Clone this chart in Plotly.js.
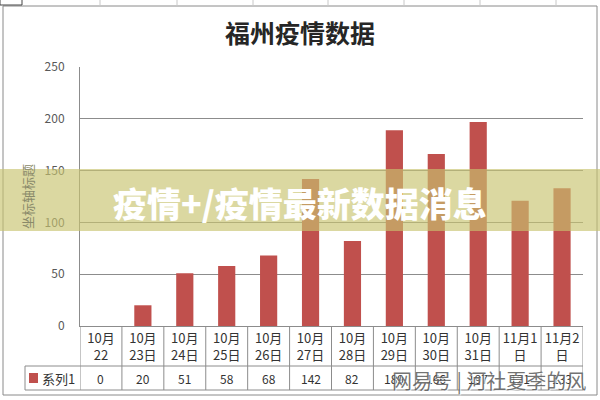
<!DOCTYPE html>
<html><head><meta charset="utf-8">
<script src="https://cdn.plot.ly/plotly-3.0.1.min.js"></script>
<style>html,body{margin:0;padding:0;background:#fff}#chart{width:600px;height:400px}</style>
</head><body><div id="chart"></div>
<script>
const categories = ["10月22","10月23日","10月24日","10月25日","10月26日","10月27日","10月28日","10月29日","10月30日","10月31日","11月1日","11月2日"];
const tickLabels = ["10月<br>22","10月<br>23日","10月<br>24日","10月<br>25日","10月<br>26日","10月<br>27日","10月<br>28日","10月<br>29日","10月<br>30日","10月<br>31日","11月1<br>日","11月2<br>日"];
const values = [0,20,51,58,68,142,82,189,166,197,121,133];
const seriesName = "系列1";
const yTicks = [0,50,100,150,200,250];
const chartTitle = "福州疫情数据";
const yTitle = "坐标轴标题";
const bannerText = "疫情+/疫情最新数据消息";
const watermarkText = "网易号 | 河社夏季的风";

const L = 80, R = 583, T = 67, B = 326;
const px = v => (v - L) / (R - L);
const py = v => (B - v) / (B - T);
const FONT = "Noto Sans CJK SC, Noto Sans, sans-serif";
const RED = "#c0504d";
const GRID = "#8c8c8c";

const shapes = [];
const line = (x0, y0, x1, y1, xref, color, w) => shapes.push({type:"line", xref:xref||"paper", yref:"paper", x0, y0, x1, y1, line:{color:color||GRID, width:w||1}});
// table vertical dividers
for (let i = 0; i <= categories.length; i++) {
  shapes.push({type:"line", xref:"x", yref:"paper", x0:i-0.5, x1:i-0.5, y0:py(326), y1:py(390), line:{color:GRID, width:1}});
}
// table horizontal lines
line(px(25), py(366), px(583), py(366));
line(px(25), py(390), px(583), py(390));
line(px(25), py(366), px(25), py(390));
// legend marker
shapes.push({type:"rect", xref:"paper", yref:"paper", x0:px(29), x1:px(38), y0:py(383), y1:py(373), fillcolor:RED, line:{width:0}});
// outer chart border
shapes.push({type:"rect", xref:"paper", yref:"paper", x0:px(3), x1:px(597), y0:py(395), y1:py(6), line:{color:"#8a8a8a", width:1}});
// spreadsheet grid above chart
shapes.push({type:"rect", xref:"paper", yref:"paper", x0:px(0), x1:px(22), y0:py(5), y1:py(-2), line:{color:"#444", width:1}});
[100,177,253,328,404,480,556].forEach(x => line(px(x), py(0), px(x), py(6), "paper", "#c8c8c8"));
// banner overlay
shapes.push({type:"rect", xref:"paper", yref:"paper", x0:px(0), x1:px(600), y0:py(231), y1:py(169), fillcolor:"rgba(200,195,110,0.65)", line:{width:0}, layer:"above"});

const annotations = [];
values.forEach((v, i) => annotations.push({x:categories[i], xref:"x", yref:"paper", y:py(378), yanchor:"middle", text:String(v), showarrow:false, font:{family:FONT, size:12, color:"#333"}}));
annotations.push({xref:"paper", yref:"paper", x:px(40), xanchor:"left", y:py(378), yanchor:"middle", text:seriesName, showarrow:false, font:{family:FONT, size:13, color:"#333"}});
annotations.push({xref:"paper", yref:"paper", x:px(300), y:py(202), xanchor:"center", yanchor:"middle", text:bannerText, showarrow:false, font:{family:FONT, size:34, color:"#ffffff", weight:900}});
annotations.push({xref:"paper", yref:"paper", x:px(588), xanchor:"right", y:py(380), yanchor:"middle", text:watermarkText, showarrow:false, font:{family:FONT, size:20, color:"rgba(90,90,90,0.85)", shadow:"1px 1px 1px #fff"}});

const data = [{
  type:"bar", x:categories, y:values, name:seriesName,
  marker:{color:RED, line:{width:0}}, hoverinfo:"skip"
}];

const layout = {
  width:600, height:400, margin:{l:L, r:600-R, t:T, b:400-B},
  paper_bgcolor:"#fff", plot_bgcolor:"#fff", showlegend:false, bargap:0.59,
  title:{text:chartTitle, x:0.5, xref:"container", xanchor:"center", y:1-34/400, yref:"container", yanchor:"middle", font:{family:FONT, size:25, color:"#262626", weight:"bold"}},
  xaxis:{type:"category", range:[-0.5, categories.length-0.5], tickvals:categories, ticktext:tickLabels, showgrid:false, showline:true, linecolor:GRID, linewidth:1, ticks:"", tickfont:{family:FONT, size:13, color:"#333"}, fixedrange:true},
  yaxis:{range:[0,250], tickvals:yTicks, showgrid:true, gridcolor:GRID, gridwidth:1, showline:true, linecolor:GRID, zeroline:false, ticks:"", ticklabelstandoff:12, tickfont:{family:FONT, size:12, color:"#595959"}, title:{text:yTitle, standoff:8, font:{family:FONT, size:13, color:"#8a8a6a"}}, fixedrange:true},
  shapes, annotations
};
Plotly.newPlot("chart", data, layout, {displayModeBar:false, staticPlot:true});
</script></body></html>
